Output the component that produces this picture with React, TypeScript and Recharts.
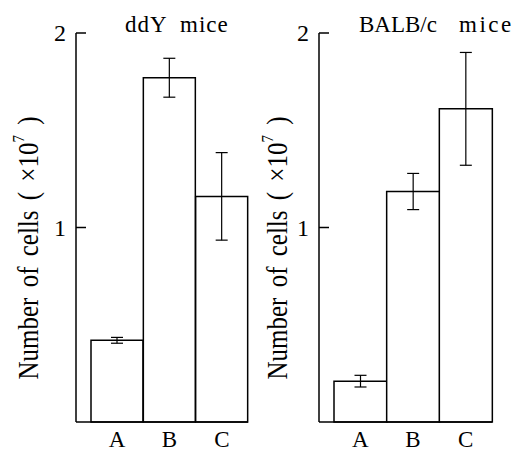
import { BarChart, Bar, XAxis, YAxis, ErrorBar } from 'recharts';

const groups = ['A', 'B', 'C'];
const ddyMeans = [0.42, 1.77, 1.16];
const ddyErrors = [0.015, 0.1, 0.225];
const balbMeans = [0.21, 1.185, 1.61];
const balbErrors = [0.03, 0.093, 0.29];
const yTicks = [1, 2];

const FONT = 'Liberation Serif';

const ddyData = groups.map((g, i) => ({ group: g, mean: ddyMeans[i], err: ddyErrors[i] }));
const balbData = groups.map((g, i) => ({ group: g, mean: balbMeans[i], err: balbErrors[i] }));

// inward tick mark + number to the left of the axis
function YTick(props: any) {
  const { x, y, payload } = props;
  return (
    <g>
      <line x1={x} x2={x + 10} y1={y} y2={y} stroke="#000" strokeWidth={1.5} />
      <text x={x - 10} y={y} dy={8} textAnchor="end" fontSize={24} fontFamily={FONT} fill="#000">
        {payload.value}
      </text>
    </g>
  );
}

function XTick(props: any) {
  const { x, y, payload } = props;
  return (
    <text x={x} y={y} dy={25} textAnchor="middle" fontSize={23} fontFamily={FONT} fill="#000">
      {payload.value}
    </text>
  );
}

interface PanelProps {
  data: { group: string; mean: number; err: number }[];
  width: number;
  axisWidth: number;
  right: number;
  pad: number;
}

function Panel({ data, width, axisWidth, right, pad }: PanelProps) {
  return (
    <BarChart
      width={width}
      height={452}
      data={data}
      margin={{ top: 33, right, bottom: 0, left: 0 }}
      barCategoryGap={0}
      barGap={0}
    >
      <XAxis
        dataKey="group"
        height={30}
        padding={{ left: pad, right: 0 }}
        tickLine={false}
        tickSize={0}
        tickMargin={0}
        axisLine={{ stroke: '#000', strokeWidth: 1.5 }}
        tick={<XTick />}
      />
      <YAxis
        width={axisWidth}
        domain={[0, 2]}
        ticks={yTicks}
        tickSize={0}
        tickMargin={0}
        tickLine={false}
        axisLine={{ stroke: '#000', strokeWidth: 1.5 }}
        tick={<YTick />}
      />
      <Bar dataKey="mean" fill="#fff" stroke="#000" strokeWidth={1.5} isAnimationActive={false}>
        <ErrorBar dataKey="err" width={6} stroke="#000" strokeWidth={1.2} direction="y" isAnimationActive={false} />
      </Bar>
    </BarChart>
  );
}

function YLabel({ x }: { x: number }) {
  return (
    <text
      transform={`translate(${x},248) rotate(-90) scale(1,1.15)`}
      textAnchor="middle"
      dominantBaseline="central"
      fontSize={25}
      fontFamily={FONT}
      fill="#000"
      style={{ wordSpacing: 4 }}
    >
      Number of cells ( ×10<tspan dy={-9} fontSize={15}>7</tspan>
      <tspan dy={9}> )</tspan>
    </text>
  );
}

export default function App() {
  return (
    <div
      style={{
        position: 'absolute',
        left: 0,
        top: 0,
        width: 521,
        height: 452,
        background: '#fff',
      }}
    >
      <div style={{ position: 'absolute', left: 0, top: 0 }}>
        <Panel data={ddyData} width={260} axisWidth={76} right={12} pad={15} />
      </div>
      <div style={{ position: 'absolute', left: 260, top: 0 }}>
        <Panel data={balbData} width={261} axisWidth={59} right={29} pad={15} />
      </div>
      <svg
        width={521}
        height={452}
        style={{ position: 'absolute', left: 0, top: 0, pointerEvents: 'none' }}
      >
        <text y={32} fontSize={23} fontFamily={FONT} style={{ letterSpacing: 1 }}>
          <tspan x={125}>ddY</tspan>{' '}
          <tspan x={180}>mice</tspan>
        </text>
        <text y={32} fontSize={23} fontFamily={FONT}>
          <tspan x={359}>BALB/c</tspan>{' '}
          <tspan x={459} style={{ letterSpacing: 2.5 }}>mice</tspan>
        </text>
        <YLabel x={28} />
        <YLabel x={277} />
      </svg>
    </div>
  );
}
